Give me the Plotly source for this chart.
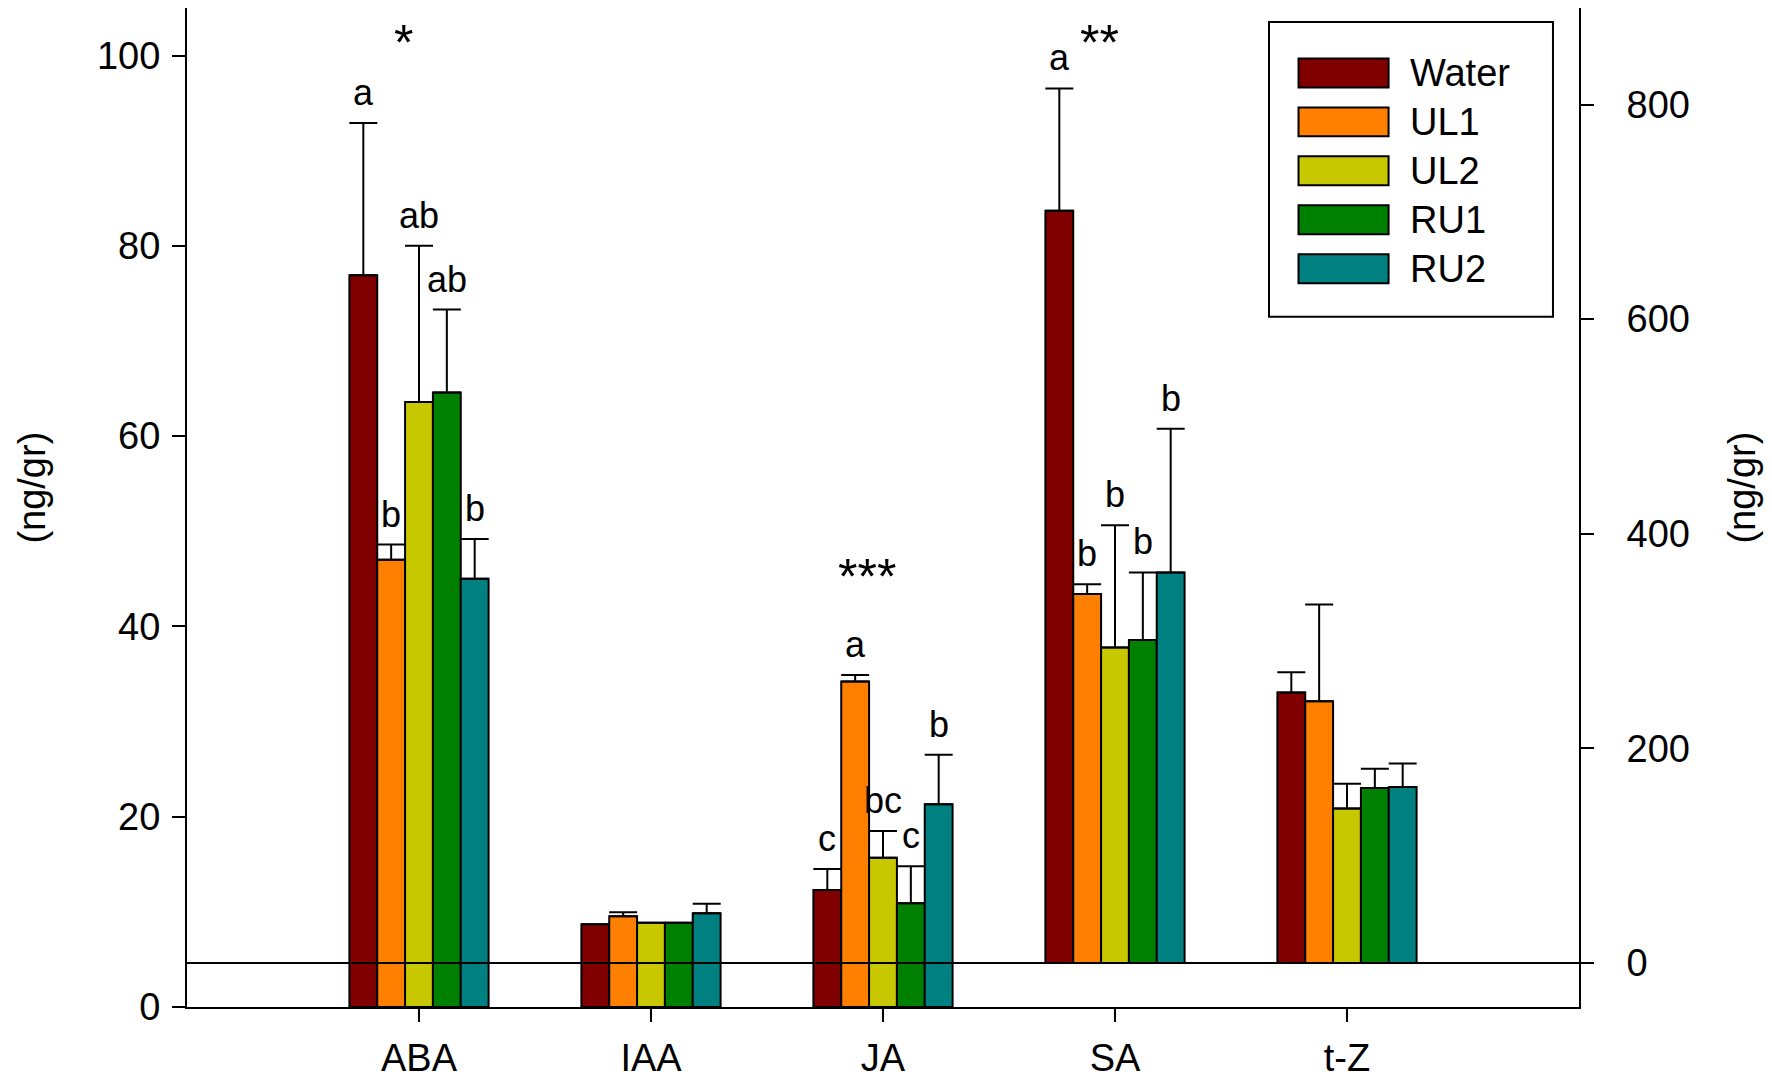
import plotly.graph_objects as go

hormones = ["ABA", "IAA", "JA", "SA", "t-Z"]
left_cats = ["ABA", "IAA", "JA"]      # plotted on left axis
right_cats = ["SA", "t-Z"]            # plotted on right axis
treatments = ["Water", "UL1", "UL2", "RU1", "RU2"]
colors = ["#800000", "#ff8000", "#c8c800", "#008000", "#008080"]

# means and upper error (ng/gr), one value per treatment
aba_mean = [76.9, 47.0, 63.6, 64.6, 45.0]
aba_err = [16.0, 1.6, 16.4, 8.7, 4.2]
iaa_mean = [8.7, 9.55, 8.85, 8.85, 9.85]
iaa_err = [0, 0.4, 0, 0, 1.0]
ja_mean = [12.3, 34.2, 15.7, 10.9, 21.3]
ja_err = [2.2, 0.7, 2.8, 3.9, 5.2]
sa_mean = [701, 344, 294, 301, 364]
sa_err = [114, 9, 114, 63, 134]
tz_mean = [252, 244, 144, 163, 164]
tz_err = [19, 90, 23, 18, 22]

# significance letters
aba_letters = ["a", "b", "ab", "ab", "b"]
ja_letters = ["c", "a", "bc", "c", "b"]
sa_letters = ["a", "b", "b", "b", "b"]
star_text = ["*", "***", "**"]
star_cats = ["ABA", "JA", "SA"]
star_y = [101.3, 45.2, 857]

FONT = "Liberation Sans, Arial, sans-serif"
FS = 38
bw = 0.12
x0 = -0.3

fig = go.Figure()
for i, name in enumerate(treatments):
    off = x0 + i * bw
    common = dict(width=bw, offset=off, marker=dict(color=colors[i], line=dict(color="black", width=2)),
                  showlegend=False, name=name)
    fig.add_trace(go.Bar(
        x=left_cats, y=[aba_mean[i], iaa_mean[i], ja_mean[i]], yaxis="y",
        error_y=dict(type="data", symmetric=False, array=[aba_err[i], iaa_err[i], ja_err[i]],
                     arrayminus=[0, 0, 0], color="black", thickness=2, width=14),
        **common))
    fig.add_trace(go.Bar(
        x=right_cats, y=[sa_mean[i], tz_mean[i]], yaxis="y2",
        error_y=dict(type="data", symmetric=False, array=[sa_err[i], tz_err[i]],
                     arrayminus=[0, 0], color="black", thickness=2, width=14),
        **common))

annotations = []

def letter_row(cat, letters, means, errs, yref):
    ci = hormones.index(cat)
    for i, t in enumerate(letters):
        annotations.append(dict(
            x=ci + x0 + i * bw + bw / 2, y=means[i] + errs[i], xref="x", yref=yref,
            text=t, showarrow=False, yanchor="bottom", yshift=8,
            font=dict(family=FONT, size=36, color="black")))

letter_row("ABA", aba_letters, aba_mean, aba_err, "y")
letter_row("JA", ja_letters, ja_mean, ja_err, "y")
letter_row("SA", sa_letters, sa_mean, sa_err, "y2")

for t, c, yv in zip(star_text, star_cats, star_y):
    annotations.append(dict(
        x=hormones.index(c), y=yv, xref="x", yref="y2" if c in right_cats else "y",
        text=t, showarrow=False, xshift=-16, yanchor="middle",
        font=dict(family=FONT, size=50, color="black")))

# axis titles
for xp in (-0.112, 1.1164):
    annotations.append(dict(x=xp, y=0.52, xref="paper", yref="paper", text="(ng/gr)",
                            textangle=-90, showarrow=False, xanchor="center", yanchor="middle",
                            font=dict(family=FONT, size=FS, color="black")))

shapes = [dict(type="line", xref="paper", yref="y2", x0=0, x1=1, y0=0, y1=0,
               line=dict(color="black", width=2), layer="above")]

# hand-made legend with wide swatches
shapes.append(dict(type="rect", xref="paper", yref="paper", x0=0.7773, x1=0.9813, y0=0.691, y1=0.986,
                   line=dict(color="black", width=2), fillcolor="white", layer="above"))
for i, name in enumerate(treatments):
    yc = 0.935 - i * 0.049
    shapes.append(dict(type="rect", xref="paper", yref="paper", x0=0.7985, x1=0.8632,
                       y0=yc - 0.0145, y1=yc + 0.0145, fillcolor=colors[i],
                       line=dict(color="black", width=2), layer="above"))
    annotations.append(dict(x=0.877, y=yc, xref="paper", yref="paper", text=name, showarrow=False,
                            xanchor="left", yanchor="middle",
                            font=dict(family=FONT, size=FS, color="black")))

axis_common = dict(showline=True, linecolor="black", linewidth=2, ticks="outside", ticklen=13,
                   tickwidth=2, tickcolor="black", showgrid=False, zeroline=False, automargin=False,
                   tickfont=dict(family=FONT, size=FS, color="black"))

# page body adds an 8px margin, so the figure is a bit smaller than the window
fig.update_layout(
    width=1764, height=1075,
    margin=dict(l=179, r=193, t=0, b=76, autoexpand=False),
    paper_bgcolor="white", plot_bgcolor="white",
    barmode="overlay",
    showlegend=False,
    xaxis=dict(categoryorder="array", categoryarray=hormones, range=[-1, 5], mirror=True,
               tickvals=hormones, ticklabelstandoff=3, **axis_common),
    yaxis=dict(range=[0, 105], tickvals=[0, 20, 40, 60, 80, 100], ticklabelstandoff=4, **axis_common),
    yaxis2=dict(range=[-41, 890], tickvals=[0, 200, 400, 600, 800], overlaying="y", side="right",
                ticklabelstandoff=25, **axis_common),
    shapes=shapes,
    annotations=annotations,
)

fig.write_html("out.html")
